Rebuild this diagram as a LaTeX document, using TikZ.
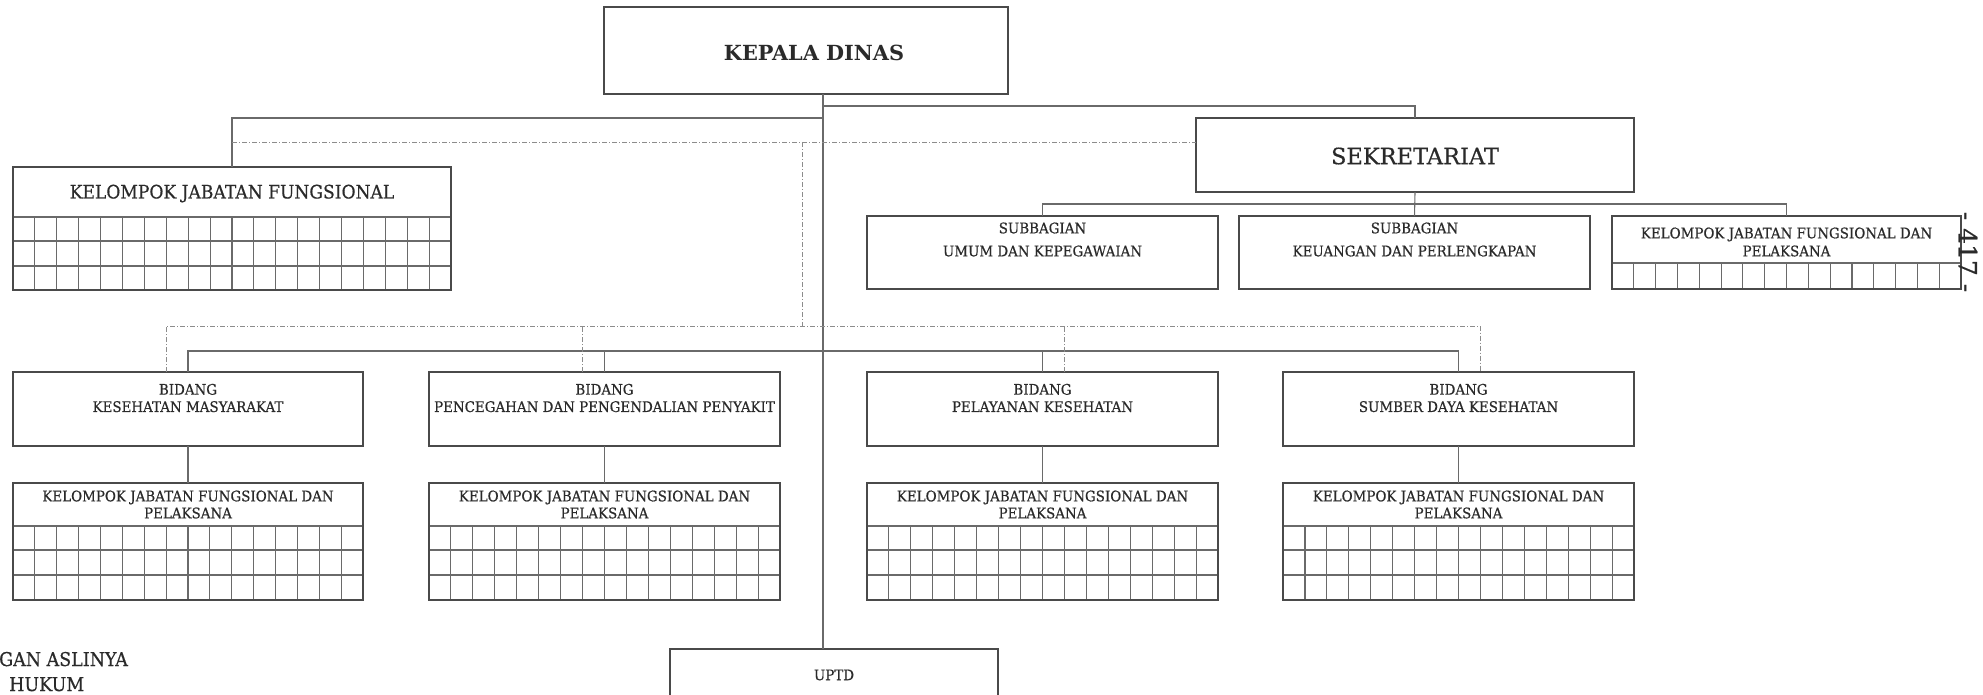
\documentclass[tikz,border=0pt]{standalone}
\usepackage{fontspec}
\setmainfont{DejaVu Serif}
\newfontfamily\narrowserif[FakeStretch=0.92,FakeBold=0.5]{DejaVu Serif}
\newfontfamily\heavyserif[FakeBold=0.5]{DejaVu Serif}
\definecolor{framegray}{HTML}{4A4A4A}
\definecolor{linkgray}{HTML}{6A6A6A}
\definecolor{dashgray}{HTML}{8C8C8C}
\definecolor{inkgray}{HTML}{2A2A2A}

% box given by its corners (x1,y1) and (x2,y2)
\newcommand\orgbox[5]{%
  \node[frame, minimum width={#4-#2}, minimum height={#5-#3}] (#1)
    at ({(#2+#4)/2},{(#3+#5)/2}) {};}
% cell grid under the title line of a box: x1, x2, title line, bottom, columns, row lines
\newcommand\cellgrid[6]{%
  \draw[gridline] (#1,#3) -- (#2,#3);
  \foreach \ry in {#6} {\draw[gridline] (#1,\ry) -- (#2,\ry);}
  \pgfmathtruncatemacro\ncm{#5-1}
  \foreach \k in {1,...,\ncm} {\draw[gridline] ({#1+(#2-#1)*\k/#5},#3) -- ({#1+(#2-#1)*\k/#5},#4);}}

\begin{document}
\begin{tikzpicture}[x=1pt,y=-1pt,
  frame/.style={draw=framegray, line width=1.9pt, inner sep=0pt, outer sep=0pt},
  gridline/.style={draw=linkgray, line width=1.1pt},
  link/.style={draw=linkgray, line width=1.1pt},
  dashline/.style={draw=dashgray, line width=0.9pt, dash pattern=on 5pt off 2pt on 1pt off 2pt},
  lbl/.style={text=inkgray, inner sep=0pt, align=center},
  small/.style={lbl, font=\narrowserif\fontsize{14.6}{17.3}\selectfont},
  ]
\useasboundingbox (0,0) rectangle (1983,694);
\clip (0,0) rectangle (1983,694);

% grids first, frames on top
\cellgrid{13}{451}{217}{290}{20}{241,266}
\cellgrid{1612}{1961}{263}{289}{16}{263}
\cellgrid{13}{363}{526}{600}{16}{550,575}
\cellgrid{429}{780}{526}{600}{16}{550,575}
\cellgrid{867}{1218}{526}{600}{16}{550,575}
\cellgrid{1283}{1634}{526}{600}{16}{550,575}

% boxes
\orgbox{kd}{604}{7}{1008}{94}
\orgbox{sek}{1196}{118}{1634}{192}
\orgbox{kjf0}{13}{167}{451}{290}
\orgbox{umum}{867}{216}{1218}{289}
\orgbox{keu}{1239}{216}{1590}{289}
\orgbox{kjfs}{1612}{216}{1961}{289}
\orgbox{b1}{13}{372}{363}{446}
\orgbox{b2}{429}{372}{780}{446}
\orgbox{b3}{867}{372}{1218}{446}
\orgbox{b4}{1283}{372}{1634}{446}
\orgbox{k1}{13}{483}{363}{600}
\orgbox{k2}{429}{483}{780}{600}
\orgbox{k3}{867}{483}{1218}{600}
\orgbox{k4}{1283}{483}{1634}{600}
\orgbox{uptd}{670}{649}{998}{730}

% labels
\node[lbl, font=\fontsize{20.8}{24}\selectfont\bfseries] (tkd) at (814,52.5) {KEPALA DINAS};
\node[lbl, font=\heavyserif\fontsize{22.5}{25}\selectfont] (tsek) at (1415,156) {SEKRETARIAT};
\node[lbl, font=\narrowserif\fontsize{18.6}{20}\selectfont] (tkjf0) at (232,193.5) {KELOMPOK JABATAN FUNGSIONAL};
\node[small, font=\narrowserif\fontsize{14.6}{23}\selectfont] (tumum) at (1042.5,239.5) {SUBBAGIAN\\UMUM DAN KEPEGAWAIAN};
\node[small, font=\narrowserif\fontsize{14.6}{23}\selectfont] (tkeu) at (1414.5,239.5) {SUBBAGIAN\\KEUANGAN DAN PERLENGKAPAN};
\node[small, font=\narrowserif\fontsize{14.6}{18}\selectfont] (tkjfs) at (1786.5,242) {KELOMPOK JABATAN FUNGSIONAL DAN\\PELAKSANA};
\node[small] (tb1) at (188,398) {BIDANG\\KESEHATAN MASYARAKAT};
\node[small] (tb2) at (604.5,398) {BIDANG\\PENCEGAHAN DAN PENGENDALIAN PENYAKIT};
\node[small] (tb3) at (1042.5,398) {BIDANG\\PELAYANAN KESEHATAN};
\node[small] (tb4) at (1458.5,398) {BIDANG\\SUMBER DAYA KESEHATAN};
\foreach \c/\n in {188/1, 604.5/2, 1042.5/3, 1458.5/4}
  \node[small, font=\narrowserif\fontsize{14.6}{17}\selectfont] (tk\n) at (\c,504.5) {KELOMPOK JABATAN FUNGSIONAL DAN\\PELAKSANA};
\node[small] (tuptd) at (834,675) {UPTD};
\node[lbl, font=\heavyserif\fontsize{25}{27}\selectfont, rotate=-90] (tpage) at (1968,252) {- 417 -};
\node[lbl, font=\narrowserif\fontsize{19}{20}\selectfont, anchor=base west] (tnote1) at (-1,666) {GAN ASLINYA};
\node[lbl, font=\narrowserif\fontsize{19}{20}\selectfont, anchor=base west] (tnote2) at (9,691) {HUKUM};

% solid connectors
\coordinate (kdout) at ([xshift=17pt]kd.south);
\draw[link] (kdout) -- (kdout |- uptd.north);
\draw[link] (kdout |- 0,106) -| (sek.north);
\draw[link] (kdout |- 0,118) -| (kjf0.north);
\draw[link] (sek.south) -- (keu.north);
\draw[link] (umum.north) |- (kjfs.north |- 0,204) -- (kjfs.north);
\draw[link] (b1.north) |- (b4.north |- 0,351) -- (b4.north);
\draw[link] (b2.north) -- (b2.north |- 0,351);
\draw[link] (b3.north) -- (b3.north |- 0,351);
\foreach \n in {1,2,3,4} \draw[link] (b\n.south) -- (k\n.north);

% dash-dot connectors
\coordinate (dtop) at (802,142);
\coordinate (dmid) at (802,326);
\draw[dashline] (kjf0.north |- dtop) -- (sek.west |- dtop);
\draw[dashline] (dtop) -- (dmid);
\draw[dashline] ([xshift=-22pt]b1.north) |- ([xshift=22pt]b4.north |- dmid) -- ([xshift=22pt]b4.north);
\draw[dashline] ([xshift=-22pt]b2.north) -- ([xshift=-22pt]b2.north |- dmid);
\draw[dashline] ([xshift=22pt]b3.north) -- ([xshift=22pt]b3.north |- dmid);
\end{tikzpicture}
\end{document}
